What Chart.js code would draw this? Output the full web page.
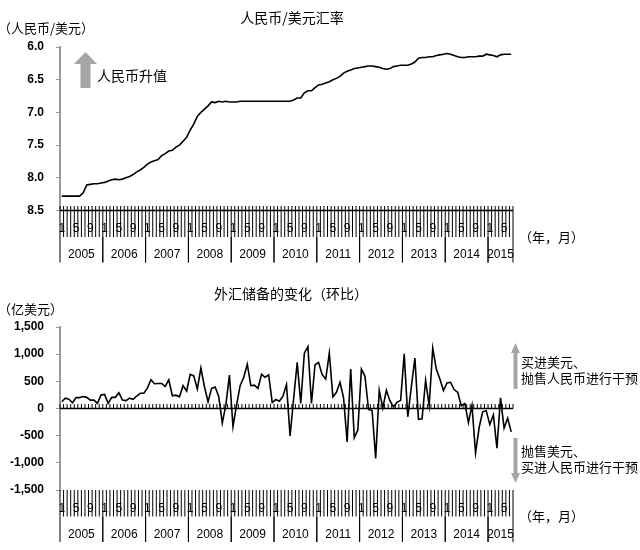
<!DOCTYPE html>
<html>
<head>
<meta charset="utf-8">
<script src="https://cdn.jsdelivr.net/npm/chart.js@4.4.0/dist/chart.umd.min.js"></script>
<style>
  body { margin: 0; background: #fff; }
  #wrap { position: relative; width: 640px; height: 550px; }
  canvas { position: absolute; left: 0; }
</style>
</head>
<body>
<div id="wrap">
  <canvas id="rateChart" width="640" height="275" style="top:0"></canvas>
  <canvas id="reserveChart" width="640" height="275" style="top:275px"></canvas>
</div>
<script>
// months run Jan 2005 .. Jul 2015
const years = [2005, 2006, 2007, 2008, 2009, 2010, 2011, 2012, 2013, 2014, 2015];
const lastMonth = 7;
const monthTicks = [1, 5, 9];

// RMB per USD, monthly
const rate = [
  8.28, 8.28, 8.28, 8.28, 8.28, 8.28, 8.23, 8.11, 8.10, 8.09, 8.09, 8.08,
  8.07, 8.05, 8.03, 8.02, 8.03, 8.02, 8.00, 7.98, 7.95, 7.91, 7.88, 7.84,
  7.79, 7.76, 7.74, 7.72, 7.66, 7.63, 7.59, 7.58, 7.53, 7.50, 7.44, 7.38,
  7.27, 7.18, 7.06, 7.00, 6.95, 6.90, 6.84, 6.85, 6.83, 6.84, 6.83, 6.84,
  6.84, 6.84, 6.83, 6.83, 6.83, 6.83, 6.83, 6.83, 6.83, 6.83, 6.83, 6.83,
  6.83, 6.83, 6.83, 6.83, 6.83, 6.81, 6.78, 6.78, 6.70, 6.67, 6.67, 6.62,
  6.58, 6.57, 6.55, 6.53, 6.50, 6.48, 6.45, 6.40, 6.37, 6.35, 6.33, 6.32,
  6.31, 6.30, 6.29, 6.29, 6.30, 6.31, 6.33, 6.34, 6.33, 6.30, 6.29, 6.28,
  6.28, 6.28, 6.26, 6.23, 6.17, 6.16, 6.16, 6.15, 6.15, 6.13, 6.12, 6.11,
  6.10, 6.11, 6.13, 6.15, 6.16, 6.16, 6.15, 6.15, 6.15, 6.14, 6.14, 6.11,
  6.12, 6.13, 6.15, 6.12, 6.11, 6.11, 6.11
];

// change in FX reserves, 100 million USD, monthly
const reserves = [
  125, 190, 170, 105, 200, 200, 220, 205, 155, 155, 95, 250,
  260, 95, 205, 205, 290, 155, 145, 190, 170, 230, 280, 280,
  375, 530, 455, 460, 460, 405, 530, 235, 245, 215, 420, 320,
  630, 600, 360, 745, 400, 125, 370, 395, 220, -270, 65, 615,
  -335, 60, 420, 570, 815, 420, 430, 370, 630, 575, 620, 110,
  165, 134, 226, 440, -506, 180, 848, 92, 1019, 1140, 92, 805,
  848, 622, 543, 1019, 214, 299, 482, 195, -616, 726, -537, -397,
  726, 592, -18, -37, -921, 336, 12, 336, 140, 30, 116, 150,
  1006, -153, 400, 927, -201, -189, 519, 55, 1110, 726, 543, 330,
  470, 482, 348, 299, 50, 92, -260, 56, -820, -350, -60, -40,
  -297, -120, -730, 198, -360, -180, -430
];

const labels = [];
years.forEach(y => {
  const end = y === years[years.length - 1] ? lastMonth : 12;
  for (let m = 1; m <= end; m++) labels.push(y + '/' + m);
});

const numFont = '12px "Liberation Sans", Arial, sans-serif';
const cjk = '"Noto Sans CJK SC", sans-serif';

// month / year category axis drawn Excel-style under the plot
const monthAxis = {
  id: 'monthAxis',
  afterDraw(chart, args, o) {
    const { ctx, chartArea: a, scales: { x, y } } = chart;
    const n = labels.length;
    const step = x.getPixelForValue(1) - x.getPixelForValue(0);
    const x0 = x.getPixelForValue(0) - step / 2;
    const axisY = y.getPixelForValue(o.crossAt);
    const top = a.bottom;
    ctx.save();
    ctx.strokeStyle = '#000';
    ctx.lineWidth = 1.5;
    ctx.beginPath();
    ctx.moveTo(a.left, axisY);
    ctx.lineTo(a.right, axisY);
    ctx.stroke();
    ctx.lineWidth = 1;
    ctx.beginPath();
    for (let i = 0; i <= n; i++) {
      const px = x0 + i * step;
      ctx.moveTo(px, axisY - 4.5);
      ctx.lineTo(px, axisY);
      ctx.moveTo(px, top);
      ctx.lineTo(px, top + 26.5);
    }
    ctx.stroke();

    ctx.fillStyle = '#000';
    ctx.textAlign = 'center';
    ctx.textBaseline = 'middle';
    ctx.font = '12px "Liberation Sans", Arial, sans-serif';
    labels.forEach((lab, i) => {
      const m = +lab.split('/')[1];
      if (monthTicks.includes(m)) ctx.fillText(String(m), x.getPixelForValue(i), top + 18.5);
    });

    ctx.font = numFont;
    let start = 0;
    ctx.beginPath();
    years.forEach(yr => {
      const cnt = labels.filter(l => l.startsWith(yr + '/')).length;
      const sx = x0 + start * step;
      const ex = x0 + (start + cnt) * step;
      ctx.moveTo(sx, top + 26.5);
      ctx.lineTo(sx, top + 52);
      ctx.moveTo(ex, top + 26.5);
      ctx.lineTo(ex, top + 52);
      ctx.fillText(String(yr), (sx + ex) / 2, top + 44.5);
      start += cnt;
    });
    ctx.stroke();

    ctx.textAlign = 'left';
    ctx.font = '13px ' + cjk;
    ctx.fillText('（年，月）', a.right + 6, top + 26.5);
    ctx.restore();
  }
};

function yScale(min, max, fmt) {
  return {
    min: min, max: max,
    border: { color: '#999', width: 2 },
    grid: { drawOnChartArea: false, color: '#999', tickLength: 4 },
    ticks: { stepSize: 0.5 * (max - min > 10 ? 1000 : 1), padding: 12, color: '#000', font: { family: '"Liberation Sans", Arial, sans-serif', size: 12, weight: 'bold' }, callback: fmt },
    afterFit(s) { s.width = 60; }
  };
}

function lineSet(data) {
  return { data: data, borderColor: '#000', borderWidth: 1.6, pointRadius: 0, tension: 0, fill: false };
}

const rateNotes = {
  id: 'rateNotes',
  afterDraw(chart) {
    const ctx = chart.ctx;
    ctx.save();
    ctx.fillStyle = '#000';
    ctx.textBaseline = 'middle';
    ctx.textAlign = 'center';
    ctx.font = '14px ' + cjk;
    ctx.fillText('人民币/美元汇率', 292, 18);
    ctx.textAlign = 'left';
    ctx.font = '13px ' + cjk;
    ctx.fillText('（人民币/美元）', -2, 28);
    ctx.font = '14px ' + cjk;
    ctx.fillText('人民币升值', 97, 76);
    ctx.fillStyle = '#a6a6a6';
    ctx.beginPath();
    ctx.moveTo(85.5, 52); ctx.lineTo(97, 64); ctx.lineTo(90.5, 64); ctx.lineTo(90.5, 88);
    ctx.lineTo(80.5, 88); ctx.lineTo(80.5, 64); ctx.lineTo(74, 64); ctx.closePath();
    ctx.fill();
    ctx.restore();
  }
};

const reserveNotes = {
  id: 'reserveNotes',
  afterDraw(chart) {
    const ctx = chart.ctx;
    ctx.save();
    ctx.fillStyle = '#000';
    ctx.textBaseline = 'middle';
    ctx.textAlign = 'center';
    ctx.font = '14px ' + cjk;
    ctx.fillText('外汇储备的变化（环比）', 291, 19);
    ctx.textAlign = 'left';
    ctx.font = '13px ' + cjk;
    ctx.fillText('（亿美元）', -2, 34);
    ctx.fillText('买进美元、', 521, 87);
    ctx.fillText('抛售人民币进行干预', 521, 103);
    ctx.fillText('抛售美元、', 521, 176);
    ctx.fillText('买进人民币进行干预', 521, 192);
    ctx.fillStyle = '#a6a6a6';
    ctx.beginPath();
    ctx.moveTo(515.5, 68); ctx.lineTo(520, 78); ctx.lineTo(517.5, 78); ctx.lineTo(517.5, 114);
    ctx.lineTo(513.5, 114); ctx.lineTo(513.5, 78); ctx.lineTo(511, 78); ctx.closePath();
    ctx.moveTo(513.5, 163); ctx.lineTo(517.5, 163); ctx.lineTo(517.5, 198); ctx.lineTo(520, 198);
    ctx.lineTo(515.5, 208); ctx.lineTo(511, 198); ctx.lineTo(513.5, 198); ctx.closePath();
    ctx.fill();
    ctx.restore();
  }
};

const common = {
  responsive: false,
  animation: false,
  plugins: { legend: { display: false }, tooltip: { enabled: false } }
};

new Chart(document.getElementById('rateChart').getContext('2d'), {
  type: 'line',
  data: { labels: labels, datasets: [lineSet(rate)] },
  options: Object.assign({}, common, {
    layout: { padding: { left: 0, top: 47, right: 127, bottom: 64.5 } },
    scales: {
      x: { type: 'category', offset: true, display: false },
      y: Object.assign(yScale(6, 8.5, v => v.toFixed(1)), { reverse: true })
    },
    plugins: Object.assign({}, common.plugins, { monthAxis: { crossAt: 8.5 } })
  }),
  plugins: [monthAxis, rateNotes]
});

new Chart(document.getElementById('reserveChart').getContext('2d'), {
  type: 'line',
  data: { labels: labels, datasets: [lineSet(reserves)] },
  options: Object.assign({}, common, {
    layout: { padding: { left: 0, top: 52, right: 127, bottom: 60 } },
    scales: {
      x: { type: 'category', offset: true, display: false },
      y: yScale(-1500, 1500, v => v.toLocaleString('en-US'))
    },
    plugins: Object.assign({}, common.plugins, { monthAxis: { crossAt: 0 } })
  }),
  plugins: [monthAxis, reserveNotes]
});
</script>
</body>
</html>
